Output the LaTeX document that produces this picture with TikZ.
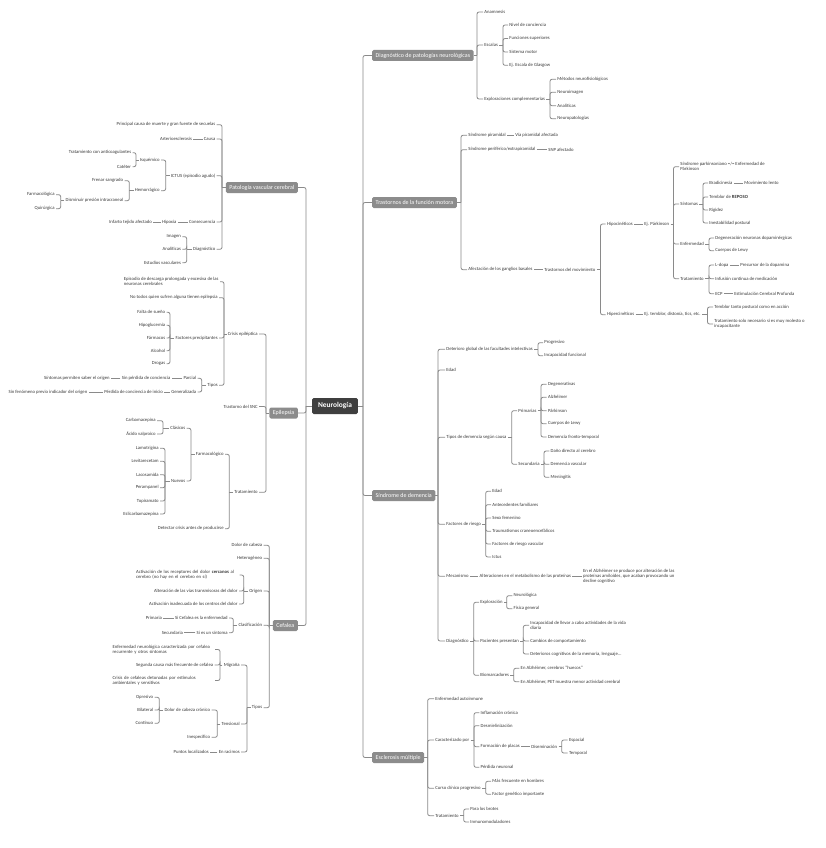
\documentclass[tikz,border=0pt]{standalone}
\usepackage{fontspec}
\setmainfont{Carlito}
\usetikzlibrary{calc}
\definecolor{txtc}{HTML}{3A3A3A}
\definecolor{linec}{HTML}{8A8A8A}
\definecolor{boxc}{HTML}{8C8C8C}
\definecolor{rootc}{HTML}{3F3F3F}
\tikzset{
 base/.style={font=\fontsize{4.7}{5.3}\selectfont, text=txtc, inner sep=1.2pt, align=left},
 R/.style={base, anchor=west},
 L/.style={base, anchor=east},
 LB/.style={base, anchor=east, text width=#1},
 mbox/.style={fill=boxc, text=white, font=\fontsize{6}{7}\selectfont, rounded corners=1.5pt, inner xsep=3.5pt, inner ysep=0pt, minimum height=11pt},
 mainR/.style={mbox, anchor=west},
 mainL/.style={mbox, anchor=east},
 root/.style={fill=rootc, text=white, font=\bfseries\fontsize{7.4}{8}\selectfont, rounded corners=1.5pt, inner xsep=6pt, inner ysep=0pt, minimum height=16pt},
 ln/.style={draw=linec, line width=0.8pt, rounded corners=2pt},
}
\newcommand\rcx[3]{\draw[ln] (#1.east) -- (#2,0 |- #1.east);
  \foreach \nn in {#3}{\draw[ln] (#2,0 |- #1.east) |- (\nn.west);}}
\newcommand\lcx[3]{\draw[ln] (#1.west) -- (#2,0 |- #1.west);
  \foreach \nn in {#3}{\draw[ln] (#2,0 |- #1.west) |- (\nn.east);}}
\newcommand\chr[2]{\draw[ln] (#1.east) -- (#2.west);}
\newcommand\chl[2]{\draw[ln] (#1.west) -- (#2.east);}
\begin{document}
\begin{tikzpicture}[x=1pt,y=-1pt]
\fill[white] (0,0) rectangle (826,848);
\useasboundingbox (0,0) rectangle (826,848);

% ---------- root ----------
\node[root] (N) at (335,406) {Neurología};
\coordinate (RB) at (363,406);
\coordinate (LB) at (306,406);

% ---------- Diagnóstico ----------
\node[mainR] (D) at (372,55.5) {Diagnóstico de patologías neurológicas};
\node[R] (D1) at (483,12) {Anamnesis};
\node[R] (D2) at (483,45) {Escalas};
\node[R] (D3) at (483,99) {Exploraciones complementarias};
\rcx{D}{477}{D1,D2,D3}
\node[R] (D21) at (508,25) {Nivel de conciencia};
\node[R] (D22) at (508,38.5) {Funciones superiores};
\node[R] (D23) at (508,52) {Sistema motor};
\node[R] (D24) at (508,65.3) {Ej. Escala de Glasgow};
\rcx{D2}{503}{D21,D22,D23,D24}
\node[R] (D31) at (556,79.3) {Métodos neurofisiológicos};
\node[R] (D32) at (556,92.3) {Neuroimagen};
\node[R] (D33) at (556,105.7) {Analíticas};
\node[R] (D34) at (556,118.7) {Neuropatologías};
\rcx{D3}{550}{D31,D32,D33,D34}

% ---------- Trastornos ----------
\node[mainR] (T) at (372,202.5) {Trastornos de la función motora};
\node[R] (T1) at (467,135.3) {Síndrome piramidal};
\node[R] (T1a) at (514,135.3) {Vía piramidal afectada};
\node[R] (T2) at (467,149.7) {Síndrome periférico/extrapiramidal};
\node[R] (T2a) at (547,149.7) {SNP afectado};
\node[R] (T3) at (467,269.7) {Afectación de los ganglios basales};
\node[R] (T3a) at (543,269.7) {Trastornos del movimiento};
\rcx{T}{461}{T1,T2,T3}
\chr{T1}{T1a} \chr{T2}{T2a} \chr{T3}{T3a}
\node[R] (H1) at (605.7,224) {Hipocinéticos};
\node[R] (H1a) at (643,224) {Ej. Párkinson};
\node[R] (H2) at (605.7,314.7) {Hipercinéticos};
\node[R] (H2a) at (643,314.7) {Ej. temblor, distonía, tics, etc.};
\rcx{T3a}{600.5}{H1,H2}
\chr{H1}{H1a} \chr{H2}{H2a}
\node[R] (P1) at (679,166.7) {Síndrome parkinsoniano =/= Enfermedad de\\Párkinson};
\node[R] (P2) at (679,204) {Síntomas};
\node[R] (P3) at (679,244) {Enfermedad};
\node[R] (P4) at (679,278.7) {Tratamiento};
\rcx{H1a}{673.5}{P1,P2,P3,P4}
\node[R] (S1) at (708,183) {Bradicinesia};
\node[R] (S1a) at (743,183) {Movimiento lento};
\node[R] (S2) at (708,197) {Temblor de \textbf{REPOSO}};
\node[R] (S3) at (708,210) {Rigidez};
\node[R] (S4) at (708,223) {Inestabilidad postural};
\rcx{P2}{703}{S1,S2,S3,S4}
\chr{S1}{S1a}
\node[R] (Q1) at (714,238) {Degeneración neuronas dopaminérgicas};
\node[R] (Q2) at (714,250.7) {Cuerpos de Lewy};
\rcx{P3}{709}{Q1,Q2}
\node[R] (R1) at (714,265) {L-dopa};
\node[R] (R1a) at (739,265) {Precursor de la dopamina};
\node[R] (R2) at (714,278.7) {Infusión continua de medicación};
\node[R] (R3) at (714,293.7) {ECP};
\node[R] (R3a) at (733,293.7) {Estimulación Cerebral Profunda};
\rcx{P4}{709}{R1,R2,R3}
\chr{R1}{R1a} \chr{R3}{R3a}
\node[R] (K1) at (713,307) {Temblor tanto postural como en acción};
\node[R] (K2) at (713,324) {Tratamiento solo necesario si es muy molesto o\\incapacitante};
\rcx{H2a}{707.5}{K1,K2}

% ---------- Síndrome de demencia ----------
\node[mainR] (S) at (372,495.5) {Síndrome de demencia};
\node[R] (M1) at (445,349.3) {Deterioro global de las facultades intelectivas};
\node[R] (M2) at (445,370) {Edad};
\node[R] (M3) at (445,437.3) {Tipos de demencia según causa};
\node[R] (M4) at (445,524.3) {Factores de riesgo};
\node[R] (M5) at (445,576.3) {Mecanismo};
\node[R] (M6) at (445,641) {Diagnóstico};
\rcx{S}{438}{M1,M2,M3,M4,M5,M6}
\node[R] (M11) at (543,342.7) {Progresivo};
\node[R] (M12) at (543,355.7) {Incapacidad funcional};
\rcx{M1}{538}{M11,M12}
\node[R] (M31) at (517,410.7) {Primarias};
\node[R] (M32) at (517,464.3) {Secundaria};
\rcx{M3}{511.7}{M31,M32}
\node[R] (Pa1) at (546.7,384.3) {Degenerativas};
\node[R] (Pa2) at (546.7,397.3) {Alzhéimer};
\node[R] (Pa3) at (546.7,410.7) {Párkinson};
\node[R] (Pa4) at (546.7,423.7) {Cuerpos de Lewy};
\node[R] (Pa5) at (546.7,437) {Demencia fronto-temporal};
\rcx{M31}{541}{Pa1,Pa2,Pa3,Pa4,Pa5}
\node[R] (Sb1) at (549.3,451) {Daño directo al cerebro};
\node[R] (Sb2) at (549.3,464.3) {Demencia vascular};
\node[R] (Sb3) at (549.3,477.3) {Meningitis};
\rcx{M32}{544}{Sb1,Sb2,Sb3}
\node[R] (F1) at (491,491.3) {Edad};
\node[R] (F2) at (491,504.7) {Antecedentes familiares};
\node[R] (F3) at (491,518) {Sexo femenino};
\node[R] (F4) at (491,531.3) {Traumatismos craneoencefálicos};
\node[R] (F5) at (491,544) {Factores de riesgo vascular};
\node[R] (F6) at (491,557) {Ictus};
\rcx{M4}{485.7}{F1,F2,F3,F4,F5,F6}
\node[R] (M5a) at (478.3,576.3) {Alteraciones en el metabolismo de las proteínas};
\node[R] (M5b) at (581.7,576.3) {En el Alzhéimer se produce por alteración de las\\proteínas amiloides, que acaban provocando un\\declive cognitivo};
\chr{M5}{M5a} \chr{M5a}{M5b}
\node[R] (G1) at (479,602.3) {Exploración};
\node[R] (G2) at (479,641) {Pacientes presentan};
\node[R] (G3) at (479,675.3) {Biomarcadores};
\rcx{M6}{473.7}{G1,G2,G3}
\node[R] (G11) at (512.3,595.7) {Neurológica};
\node[R] (G12) at (512.3,608.7) {Física general};
\rcx{G1}{506.7}{G11,G12}
\node[R] (G21) at (529,625.3) {Incapacidad de llevar a cabo actividades de la vida\\diaria};
\node[R] (G22) at (529,641) {Cambios de comportamiento};
\node[R] (G23) at (529,654) {Deterioros cognitivos de la memoria, lenguaje...};
\rcx{G2}{523.3}{G21,G22,G23}
\node[R] (G31) at (519.3,668.3) {En Alzhéimer, cerebros "huecos"};
\node[R] (G32) at (519.3,681.7) {En Alzhéimer, PET muestra menor actividad cerebral};
\rcx{G3}{513.7}{G31,G32}

% ---------- Esclerosis múltiple ----------
\node[mainR] (E) at (372,757.5) {Esclerosis múltiple};
\node[R] (X1) at (434,698.7) {Enfermedad autoinmune};
\node[R] (X2) at (434,740) {Caracterizado por};
\node[R] (X3) at (434,788.3) {Curso clínico progresivo};
\node[R] (X4) at (434,815.7) {Tratamiento};
\rcx{E}{427.7}{X1,X2,X3,X4}
\node[R] (X21) at (479.3,712.7) {Inflamación crónica};
\node[R] (X22) at (479.3,725.7) {Desmielinización};
\node[R] (X23) at (479.3,746.7) {Formación de placas};
\node[R] (X24) at (479.3,767.3) {Pérdida neuronal};
\rcx{X2}{474}{X21,X22,X23,X24}
\node[R] (X23a) at (530,746.7) {Diseminación};
\chr{X23}{X23a}
\node[R] (Y1) at (567.7,740) {Espacial};
\node[R] (Y2) at (567.7,753) {Temporal};
\rcx{X23a}{561.7}{Y1,Y2}
\node[R] (X31) at (491,781.3) {Más frecuente en hombres};
\node[R] (X32) at (491,794.3) {Factor genético importante};
\rcx{X3}{485.7}{X31,X32}
\node[R] (X41) at (469,809) {Para los brotes};
\node[R] (X42) at (469,822) {Inmunomoduladores};
\rcx{X4}{463.7}{X41,X42}

% ---------- Patología vascular cerebral ----------
\node[mainL] (V) at (298,187.5) {Patología vascular cerebral};
\node[L] (V1) at (216.7,124.7) {Principal causa de muerte y gran fuente de secuelas};
\node[L] (V2) at (216.7,139) {Causa};
\node[L] (V2a) at (193.3,139) {Arterioesclerosis};
\node[L] (V3) at (216.7,175.7) {ICTUS (episodio agudo)};
\node[L] (V4) at (216.7,222) {Consecuencia};
\node[L] (V4a) at (177.7,222) {Hipoxia};
\node[L] (V4b) at (153.3,222) {Infarto tejido afectado};
\node[L] (V5) at (216.7,249.3) {Diagnóstico};
\lcx{V}{222}{V1,V2,V3,V4,V5}
\chl{V2}{V2a} \chl{V4}{V4a} \chl{V4a}{V4b}
\node[L] (V31) at (161,160) {Isquémico};
\node[L] (V32) at (161,190.7) {Hemorrágico};
\lcx{V3}{165.7}{V31,V32}
\node[L] (V311) at (132.5,152.7) {Tratamiento con anticoagulantes};
\node[L] (V312) at (132.5,166.7) {Catéter};
\lcx{V31}{136}{V311,V312}
\node[L] (V321) at (124.5,180.7) {Frenar sangrado};
\node[L] (V322) at (124.5,200.7) {Disminuir presión intracraneal};
\lcx{V32}{129.3}{V321,V322}
\node[L] (V3221) at (56,194.7) {Farmacológica};
\node[L] (V3222) at (56,208.7) {Quirúrgica};
\lcx{V322}{60.7}{V3221,V3222}
\node[L] (V51) at (182.3,236.7) {Imagen};
\node[L] (V52) at (182.3,249.3) {Analíticas};
\node[L] (V53) at (182.3,262.7) {Estudios vasculares};
\lcx{V5}{186.7}{V51,V52,V53}

% ---------- Epilepsia ----------
\node[mainL] (EP) at (298,413) {Epilepsia};
\node[L] (EP1) at (259,334) {Crisis epiléptica};
\node[L] (EP2) at (259,406.5) {Trastorno del SNC};
\node[L] (EP3) at (259,492.3) {Tratamiento};
\lcx{EP}{266}{EP1,EP2,EP3}
\node[L] (EP11) at (220,281.7) {Episodio de descarga prolongada y excesiva de las\\neuronas cerebrales};
\node[L] (EP12) at (219,297.7) {No todos quien sufren alguna tienen epilepsia};
\node[L] (EP13) at (219,338) {Factores precipitantes};
\node[L] (EP14) at (219,385.3) {Tipos};
\lcx{EP1}{224}{EP11,EP12,EP13,EP14}
\node[L] (W1) at (166.5,312.3) {Falta de sueño};
\node[L] (W2) at (166.5,325.3) {Hipoglucemia};
\node[L] (W3) at (166.5,338) {Fármacos};
\node[L] (W4) at (166.5,350.7) {Alcohol};
\node[L] (W5) at (166.5,363.7) {Drogas};
\lcx{EP13}{170}{W1,W2,W3,W4,W5}
\node[L] (Z1) at (197.5,378.3) {Parcial};
\node[L] (Z2) at (197.5,392) {Generalizada};
\lcx{EP14}{201.7}{Z1,Z2}
\node[L] (Z1a) at (171.7,378.3) {Sin pérdida de conciencia};
\node[L] (Z1b) at (111,378.3) {Síntomas permiten saber el origen};
\node[L] (Z2a) at (164.3,392) {Pérdida de conciencia de inicio};
\node[L] (Z2b) at (88.7,392) {Sin fenómeno previo indicador del origen};
\chl{Z1}{Z1a} \chl{Z1a}{Z1b} \chl{Z2}{Z2a} \chl{Z2a}{Z2b}
\node[L] (U1) at (225,454.3) {Farmacológico};
\node[L] (U2) at (225,528.7) {Detectar crisis antes de producirse};
\lcx{EP3}{229.3}{U1,U2}
\node[L] (U11) at (186.7,428.3) {Clásicos};
\node[L] (U12) at (186.7,481) {Nuevos};
\lcx{U1}{191}{U11,U12}
\node[L] (U111) at (157,420.7) {Carbamacepina};
\node[L] (U112) at (157,434) {Ácido valproico};
\lcx{U11}{163}{U111,U112}
\node[L] (U121) at (160,448.3) {Lamotrigina};
\node[L] (U122) at (160,461.3) {Levitarecetam};
\node[L] (U123) at (160,474.7) {Lacosamida};
\node[L] (U124) at (160,487.7) {Perampanel};
\node[L] (U125) at (160,501) {Topiramato};
\node[L] (U126) at (160,514) {Eslicarbamazepina};
\lcx{U12}{165}{U121,U122,U123,U124,U125,U126}

% ---------- Cefalea ----------
\node[mainL] (C) at (298,625.5) {Cefalea};
\node[L] (C1) at (263.5,545.3) {Dolor de cabeza};
\node[L] (C2) at (263.5,558.3) {Heterogéneo};
\node[L] (C3) at (263.5,591) {Origen};
\node[L] (C4) at (263.5,625.3) {Clasificación};
\node[L] (C5) at (263.5,707.7) {Tipos};
\lcx{C}{269.3}{C1,C2,C3,C4,C5}
\node[LB=102pt] (C31) at (239.5,575) {Activación de los receptores del dolor \textbf{cercanos} al\\cerebro (no hay en el cerebro en sí)};
\node[L] (C32) at (239,591) {Alteración de las vías transmisoras del dolor};
\node[L] (C33) at (239,604) {Activación inadecuada de los centros del dolor};
\lcx{C3}{243.7}{C31,C32,C33}
\node[L] (C41) at (229,618) {Si Cefalea es la enfermedad};
\node[L] (C42) at (229,632.7) {Si es un síntoma};
\lcx{C4}{233.3}{C41,C42}
\node[L] (C41a) at (163.3,618) {Primaria};
\node[L] (C42a) at (184.3,632.7) {Secundaria};
\chl{C41}{C41a} \chl{C42}{C42a}
\node[L] (C51) at (241,665) {Migraña};
\node[L] (C52) at (241,724) {Tensional};
\node[L] (C53) at (241,752) {En racimos};
\lcx{C5}{247}{C51,C52,C53}
\node[L] (C53a) at (210,752) {Puntos localizados};
\chl{C53}{C53a}
\node[LB=101pt] (C511) at (215,649.5) {Enfermedad neurológica caracterizada por cefalea\\recurrente y otros síntomas};
\node[L] (C512) at (214.5,665) {Segunda causa más frecuente de cefalea};
\node[LB=101pt] (C513) at (215,680.5) {Crisis de cefaleas detonadas por estímulos\\ambientales y sensitivos};
\lcx{C51}{220}{C511,C512,C513}
\node[L] (C521) at (211.5,710) {Dolor de cabeza crónico};
\node[L] (C522) at (211.5,737.3) {Inespecífico};
\lcx{C52}{217.3}{C521,C522}
\node[L] (C5211) at (154.5,697.3) {Opresivo};
\node[L] (C5212) at (154.5,710) {Bilateral};
\node[L] (C5213) at (154.5,723.3) {Contínuo};
\lcx{C521}{159.3}{C5211,C5212,C5213}

% ---------- main connectors ----------
\draw[ln] (N.east) -- (RB);
\foreach \nn in {D,T,S,E}{\draw[ln] (RB) |- (\nn.west);}
\draw[ln] (N.west) -- (LB);
\foreach \nn in {V,EP,C}{\draw[ln] (LB) |- (\nn.east);}
\end{tikzpicture}
\end{document}
